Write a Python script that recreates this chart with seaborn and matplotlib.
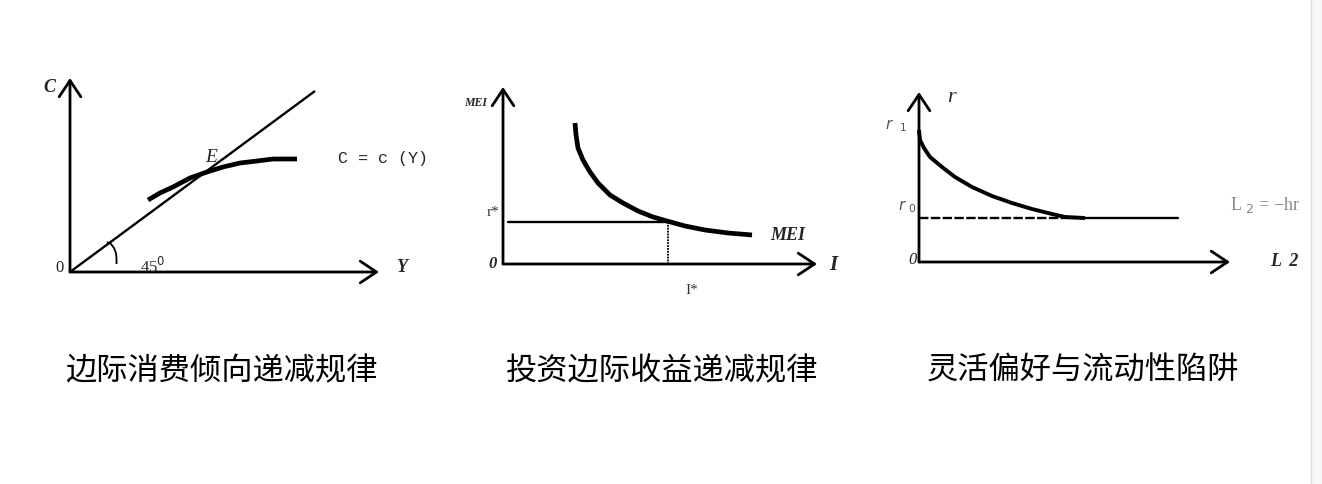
import numpy as np
import pandas as pd
import seaborn as sns
import matplotlib.pyplot as plt

sns.set_theme(style="white")
plt.rcParams['font.family'] = ['Noto Sans CJK SC', 'DejaVu Sans']

# canvas units follow the reference picture (x right, y down)
titles = ['边际消费倾向递减规律', '投资边际收益递减规律', '灵活偏好与流动性陷阱']
title_x = [222, 662, 1083]

# panel 1: consumption
cons_x = [148, 160, 173, 190, 207, 223, 240, 257, 273, 297]
cons_y = [200, 193, 187, 178, 172, 167, 163, 161, 159, 159]
line45_x = [70, 315]
line45_y = [272, 91]
arc_x = [107, 111, 114, 116, 116.5, 116.5]
arc_y = [242, 244, 248, 253, 258, 264]

# panel 2: MEI
mei_x = [575, 576, 578, 583, 590, 598, 610, 623, 638, 653, 667, 685, 705, 728, 752]
mei_y = [123, 135, 148, 160, 172, 183, 195, 203, 211, 217, 221, 226, 230, 233, 235]
rstar_y = 222
istar_x = 668

# panel 3: liquidity preference
liq_x = [919, 920, 924, 930, 942, 955, 972, 992, 1012, 1032, 1052, 1065, 1085]
liq_y = [130, 140, 148, 157, 167, 177, 187, 196, 203, 209, 214, 217, 218]
trap_y = 218

fig = plt.figure(figsize=(13.22, 4.84), dpi=100)
ax = fig.add_axes([0, 0, 1, 1])
ax.set_xlim(0, 1322)
ax.set_ylim(484, 0)
ax.axis('off')

serif = ['Liberation Serif', 'DejaVu Serif']
mono = ['Liberation Mono', 'DejaVu Sans Mono']


def axes_arrows(x0, y0, xtip, ytip):
    arr = dict(arrowstyle='->, head_length=0.45, head_width=0.3', lw=2.0,
               color='black', mutation_scale=26, shrinkA=0, shrinkB=0)
    ax.annotate('', xy=(xtip, y0), xytext=(x0, y0), arrowprops=arr)
    ax.annotate('', xy=(x0, ytip), xytext=(x0, y0), arrowprops=arr)


def curve(xs, ys, lw):
    df = pd.DataFrame({'x': xs, 'y': ys})
    sns.lineplot(data=df, x='x', y='y', ax=ax, color='black', lw=lw,
                 sort=False, estimator=None, solid_capstyle='butt',
                 solid_joinstyle='round')


# panel 1
axes_arrows(70, 272, 379, 78)
curve(line45_x, line45_y, 1.7)
curve(cons_x, cons_y, 3.4)
curve(arc_x, arc_y, 1.3)
ax.text(49, 87, 'C', family=serif, style='italic', weight='bold', fontsize=13, ha='center', va='center')
ax.text(60, 268, '0', family=serif, fontsize=12, ha='center', va='center')
ax.text(402, 268, 'Y', family=serif, style='italic', weight='bold', fontsize=13, ha='center', va='center')
ax.text(153, 267, '45$^0$', family=serif, fontsize=12, ha='center', va='center')
ax.text(211, 158, 'E', family=serif, style='italic', fontsize=14, color='#222222', ha='center', va='center')
ax.text(338, 158, 'C = c (Y)', family=mono, fontsize=12, ha='left', va='center')

# panel 2
axes_arrows(503, 264, 817, 87)
curve(mei_x, mei_y, 3.4)
ax.plot([508, istar_x], [rstar_y, rstar_y], color='black', lw=1.7)
ax.plot([istar_x, istar_x], [rstar_y, 264], color='black', lw=1.3, ls=(0, (1, 0.6)))
ax.text(476, 103, 'MEI', family=serif, style='italic', weight='bold', fontsize=8.5, ha='center', va='center')
ax.text(493, 212, 'r*', family=serif, fontsize=11, color='#333333', ha='center', va='center')
ax.text(493, 264, '0', family=serif, style='italic', weight='bold', fontsize=12, ha='center', va='center')
ax.text(833, 265, 'I', family=serif, style='italic', weight='bold', fontsize=15, ha='center', va='center')
ax.text(692, 291, 'I*', family=serif, fontsize=11, color='#333333', ha='center', va='center')
ax.text(788, 236, 'MEI', family=serif, style='italic', weight='bold', fontsize=13, ha='center', va='center')

# panel 3
axes_arrows(919, 262, 1230, 92)
curve(liq_x, liq_y, 2.8)
ax.plot([919, 1062], [trap_y, trap_y], color='black', lw=1.7, ls=(0, (4, 1)))
ax.plot([1062, 1178], [trap_y, trap_y], color='black', lw=1.7)
ax.text(951, 98, 'r', family=serif, style='italic', fontsize=16, ha='center', va='center')
ax.text(896, 126, r'$r$  $_1$', family=serif, fontsize=11, color='#555555', ha='center', va='center')
ax.text(907, 207, r'$r$ $_0$', family=serif, fontsize=11, color='#555555', ha='center', va='center')
ax.text(913, 260, '0', family=serif, style='italic', fontsize=12, ha='center', va='center')
ax.text(1230, 205, 'L $_2$ = \u2212hr', family=serif, fontsize=13, color='#888888', ha='left', va='center')
ax.text(1270, 262, 'L  2', family=serif, style='italic', weight='bold', fontsize=13, ha='left', va='center')

# page edge
ax.axvline(1311, color='#dddddd', lw=1)
ax.axvspan(1311, 1322, color='#f7f7f7', lw=0)

for t, x in zip(titles, title_x):
    ax.text(x, 371, t, fontsize=22.5, ha='center', va='center', color='black')

fig.savefig('out.png', dpi=100)
